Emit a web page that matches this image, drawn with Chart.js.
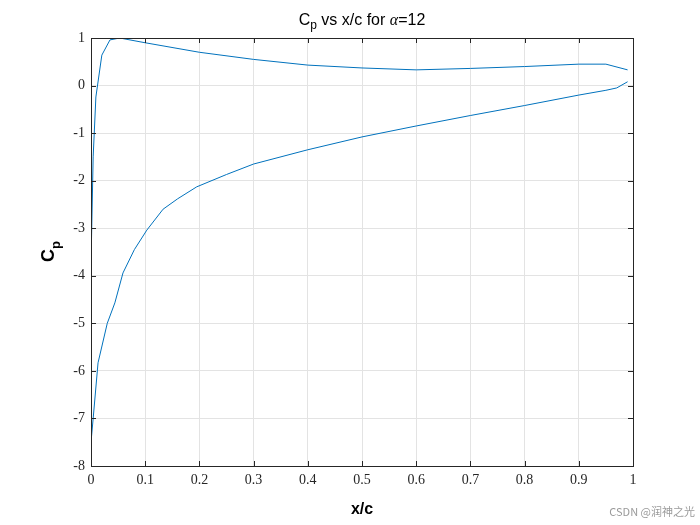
<!DOCTYPE html>
<html>
<head>
<meta charset="utf-8">
<script src="https://cdn.jsdelivr.net/npm/chart.js@4"></script>
<style>
  body { margin: 0; background: #fff; }
</style>
</head>
<body>
<canvas id="cpChart" width="700" height="525"></canvas>
<script>
// lado de presion (Cp positivo), de borde de salida a borde de ataque
var xPres  = [0.99, 0.95, 0.9, 0.8, 0.7, 0.6, 0.5, 0.4, 0.3, 0.2, 0.1, 0.053, 0.035, 0.02, 0.009, 0.004, 0];
var cpPres = [0.33, 0.45, 0.45, 0.40, 0.36, 0.33, 0.37, 0.43, 0.55, 0.70, 0.90, 1.0, 0.96, 0.64, -0.24, -1.5, -3.75];
// lado de succion, de borde de ataque a borde de salida
var xSucc  = [0, 0.004, 0.013, 0.03, 0.044, 0.059, 0.08, 0.103, 0.133, 0.16, 0.195, 0.25, 0.3, 0.4, 0.5, 0.6, 0.7, 0.8, 0.9, 0.95, 0.97, 0.99];
var cpSucc = [-7.5, -7.0, -5.83, -5.0, -4.57, -3.94, -3.45, -3.04, -2.6, -2.38, -2.13, -1.87, -1.65, -1.35, -1.08, -0.85, -0.63, -0.42, -0.2, -0.1, -0.05, 0.08];
var xTicks = [0, 0.1, 0.2, 0.3, 0.4, 0.5, 0.6, 0.7, 0.8, 0.9, 1];
var yTicks = [1, 0, -1, -2, -3, -4, -5, -6, -7, -8];

var puntos = [];
xPres.forEach(function (x, i) { puntos.push({x: x, y: cpPres[i]}); });
xSucc.forEach(function (x, i) { puntos.push({x: x, y: cpSucc[i]}); });

var decoracion = {
    id: 'decoracion',
    afterDraw: function (chart) {
        var ctx = chart.ctx, a = chart.chartArea;
        var sx = chart.scales.x, sy = chart.scales.y;
        ctx.save();
        ctx.strokeStyle = '#262626';
        ctx.lineWidth = 1;
        ctx.strokeRect(a.left + 0.5, a.top + 0.5, a.right - a.left, a.bottom - a.top);
        ctx.beginPath();
        xTicks.forEach(function (t) {
            var p = Math.round(sx.getPixelForValue(t)) + 0.5;
            ctx.moveTo(p, a.bottom); ctx.lineTo(p, a.bottom - 5);
            ctx.moveTo(p, a.top); ctx.lineTo(p, a.top + 5);
        });
        yTicks.forEach(function (t) {
            var p = Math.round(sy.getPixelForValue(t)) + 0.5;
            ctx.moveTo(a.left, p); ctx.lineTo(a.left + 5, p);
            ctx.moveTo(a.right, p); ctx.lineTo(a.right - 5, p);
        });
        ctx.stroke();

        ctx.fillStyle = '#000';
        ctx.textBaseline = 'alphabetic';
        // titulo
        var t1 = 'C', t2 = 'p', t3 = ' vs x/c for ', t4 = '\u03b1', t5 = '=12';
        ctx.font = '16px "Liberation Sans"'; var w1 = ctx.measureText(t1).width;
        ctx.font = '12px "Liberation Sans"'; var w2 = ctx.measureText(t2).width;
        ctx.font = '16px "Liberation Sans"'; var w3 = ctx.measureText(t3).width;
        ctx.font = 'italic 16px "Liberation Serif"'; var w4 = ctx.measureText(t4).width;
        ctx.font = '16px "Liberation Sans"'; var w5 = ctx.measureText(t5).width;
        var cx = (a.left + a.right) / 2, x0 = cx - (w1 + w2 + w3 + w4 + w5) / 2, by = 25;
        ctx.textAlign = 'left';
        ctx.font = '16px "Liberation Sans"'; ctx.fillText(t1, x0, by);
        ctx.font = '12px "Liberation Sans"'; ctx.fillText(t2, x0 + w1, by + 4);
        ctx.font = '16px "Liberation Sans"'; ctx.fillText(t3, x0 + w1 + w2, by);
        ctx.font = 'italic 16px "Liberation Serif"'; ctx.fillText(t4, x0 + w1 + w2 + w3, by);
        ctx.font = '16px "Liberation Sans"'; ctx.fillText(t5, x0 + w1 + w2 + w3 + w4, by);
        // etiqueta x
        ctx.font = 'bold 16px "Liberation Sans"';
        ctx.textAlign = 'center';
        ctx.fillText('x/c', cx, 514);
        // etiqueta y
        ctx.translate(54, (a.top + a.bottom) / 2);
        ctx.rotate(-Math.PI / 2);
        ctx.font = 'bold 18px "Liberation Sans"';
        ctx.textAlign = 'left';
        ctx.fillText('C', -10, 0);
        ctx.font = 'bold 13px "Liberation Sans"';
        ctx.fillText('p', 3, 6);
        ctx.restore();
        // marca de agua
        ctx.save();
        ctx.font = '11px "Noto Sans CJK SC"';
        ctx.fillStyle = '#9a9a9a';
        ctx.textAlign = 'right';
        ctx.fillText('CSDN @润神之光', 695, 516);
        ctx.restore();
    }
};

new Chart(document.getElementById('cpChart'), {
    type: 'scatter',
    data: {
        datasets: [{
            data: puntos,
            showLine: true,
            borderColor: '#0072BD',
            borderWidth: 1,
            pointRadius: 0,
            tension: 0
        }]
    },
    options: {
        responsive: false,
        animation: false,
        devicePixelRatio: 1,
        layout: { padding: { top: 38, right: 67, left: 0, bottom: 0 } },
        plugins: { legend: { display: false }, tooltip: { enabled: false } },
        scales: {
            x: {
                type: 'linear', min: 0, max: 1,
                afterBuildTicks: function (s) { s.ticks = xTicks.map(function (v) { return {value: v}; }); },
                afterFit: function (s) { s.height = 59; },
                grid: { color: '#e3e3e3', drawTicks: false },
                border: { display: false },
                ticks: { padding: 6, color: '#262626', autoSkip: false, maxRotation: 0,
                         font: { family: '"Liberation Serif"', size: 14 },
                         callback: function (v) { return String(v); } }
            },
            y: {
                type: 'linear', min: -8, max: 1,
                afterBuildTicks: function (s) { s.ticks = yTicks.map(function (v) { return {value: v}; }); },
                afterFit: function (s) { s.width = 91; },
                grid: { color: '#e3e3e3', drawTicks: false },
                border: { display: false },
                ticks: { padding: 6, color: '#262626', autoSkip: false,
                         font: { family: '"Liberation Serif"', size: 14 },
                         callback: function (v) { return String(v); } }
            }
        }
    },
    plugins: [decoracion]
});
</script>
</body>
</html>
